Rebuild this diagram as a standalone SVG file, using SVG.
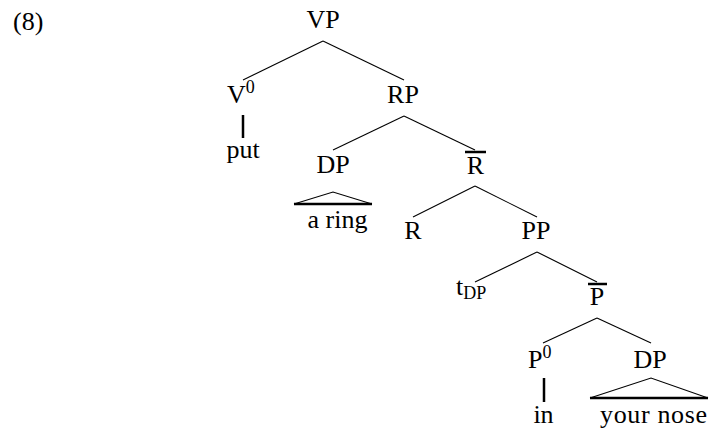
<svg xmlns="http://www.w3.org/2000/svg" width="710" height="430" viewBox="0 0 710 430">
<style>
  .c { text-anchor: middle; }
  .e { stroke: #000; stroke-width: 1.1; fill: none; }
  .t { stroke: #000; stroke-width: 2.5; fill: none; }
</style>
<rect width="710" height="430" fill="#fff"/>
<g id="label8"><text x="13" y="30" font-family="Liberation Serif, serif" font-size="26">(8)</text></g>
<g id="connectors">
  <line class="e" x1="323" y1="41" x2="243" y2="80"/>
  <line class="e" x1="323" y1="41" x2="404" y2="80"/>
  <line class="t" x1="243" y1="115" x2="243" y2="138"/>
  <line class="e" x1="404" y1="116" x2="333" y2="150"/>
  <line class="e" x1="404" y1="116" x2="475" y2="150"/>
  <polyline class="e" points="294,204 333,192 372,204"/>
  <line class="t" x1="294" y1="204" x2="372" y2="204"/>
  <line class="e" x1="475" y1="186" x2="413" y2="217"/>
  <line class="e" x1="475" y1="186" x2="537" y2="217"/>
  <line class="e" x1="537" y1="252" x2="475" y2="282"/>
  <line class="e" x1="537" y1="252" x2="597" y2="282"/>
  <line class="e" x1="597" y1="318" x2="543" y2="343"/>
  <line class="e" x1="597" y1="318" x2="651" y2="343"/>
  <line class="t" x1="544" y1="378" x2="544" y2="402"/>
  <polyline class="e" points="590,398 651,378 708,398"/>
  <line class="t" x1="590" y1="398" x2="708" y2="398"/>
</g>
<g id="VP"><text class="c" x="323" y="28" font-family="serif" font-size="26">VP</text></g>
<g id="V0"><text x="227" y="103" font-family="serif" font-size="26">V<tspan font-size="18" dy="-10">0</tspan></text></g>
<g id="put"><text class="c" x="243" y="158" font-family="serif" font-size="26">put</text></g>
<g id="RP"><text class="c" x="403" y="103" font-family="serif" font-size="26">RP</text></g>
<g id="DP1"><text class="c" x="333" y="173" font-family="serif" font-size="26">DP</text></g>
<g id="aring"><text class="c" x="337.5" y="228" font-family="serif" font-size="26">a ring</text></g>
<g id="Rbar"><line class="t" x1="465" y1="152" x2="486" y2="152"/><text class="c" x="475.5" y="174" font-family="serif" font-size="26">R</text></g>
<g id="R"><text class="c" x="413" y="239" font-family="serif" font-size="26">R</text></g>
<g id="PP"><text class="c" x="536" y="239" font-family="serif" font-size="26">PP</text></g>
<g id="tDP"><text x="456" y="295" font-family="serif" font-size="26">t<tspan font-size="18" dy="4">DP</tspan></text></g>
<g id="Pbar"><line class="t" x1="588" y1="284" x2="607" y2="284"/><text class="c" x="597" y="305" font-family="serif" font-size="26">P</text></g>
<g id="P0"><text x="528" y="368" font-family="serif" font-size="26">P<tspan font-size="18" dy="-10">0</tspan></text></g>
<g id="DP2"><text class="c" x="650" y="368" font-family="serif" font-size="26">DP</text></g>
<g id="in"><text class="c" x="543.5" y="423" font-family="serif" font-size="26">in</text></g>
<g id="yournose"><text x="600" y="423" textLength="107" lengthAdjust="spacing" font-family="serif" font-size="26">your nose</text></g>
</svg>
